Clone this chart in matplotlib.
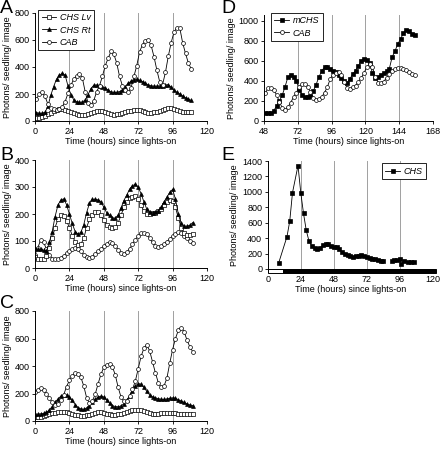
import numpy as np
import matplotlib
matplotlib.use("Agg")
import matplotlib.pyplot as plt
from matplotlib.patches import Rectangle

plt.rcParams['font.family'] = ['Liberation Sans', 'DejaVu Sans']

# Panel A (t = 1..109 h, every 2 h)
a_lv = [20, 22, 28, 38, 50, 62, 72, 80, 86, 88, 84, 76, 66, 58, 50, 44, 42, 44, 50, 58,
        66, 72, 76, 74, 66, 58, 50, 48, 50, 55, 60, 66, 72, 77, 80, 81, 78, 72, 66, 62,
        62, 65, 70, 76, 82, 88, 93, 94, 88, 80, 73, 68, 65, 64, 63]
a_rt = [62, 57, 58, 64, 110, 190, 255, 310, 340, 352, 340, 260, 195, 158, 142, 138, 140, 155, 195, 240,
        265, 267, 262, 254, 245, 228, 215, 212, 212, 218, 228, 255, 278, 295, 305, 311, 302, 292, 278, 268,
        260, 258, 258, 260, 262, 266, 270, 250, 228, 212, 200, 185, 172, 162, 152]
a_cab = [163, 200, 212, 182, 125, 98, 88, 85, 88, 105, 143, 205, 265, 308, 333, 350, 320, 217, 135, 115,
         150, 217, 262, 330, 410, 464, 515, 495, 430, 330, 260, 230, 212, 245, 330, 410, 514, 565, 595, 598,
         560, 477, 378, 291, 270, 360, 480, 580, 660, 690, 690, 580, 500, 430, 385]

# Panel B (t = 0..110 h)
b_rt = [73, 70, 70, 66, 62, 95, 135, 190, 233, 252, 256, 235, 200, 165, 135, 126, 132, 160, 205, 240,
        254, 255, 252, 246, 225, 205, 195, 186, 184, 196, 222, 250, 270, 292, 305, 310, 300, 275, 245, 218,
        208, 205, 206, 212, 225, 245, 262, 280, 291, 255, 200, 165, 155, 155, 158, 168]
b_lv = [42, 35, 32, 34, 45, 75, 110, 150, 180, 195, 193, 175, 150, 120, 97, 86, 88, 110, 150, 180,
        196, 206, 208, 195, 178, 160, 152, 149, 152, 168, 195, 225, 245, 258, 264, 265, 255, 232, 210, 200,
        200, 202, 205, 210, 220, 235, 245, 252, 250, 225, 185, 150, 128, 122, 123, 125]
b_cab = [50, 75, 105, 95, 70, 48, 35, 32, 33, 38, 45, 55, 63, 70, 74, 70, 62, 50, 40, 37,
         42, 52, 62, 72, 80, 90, 96, 92, 82, 68, 57, 52, 58, 72, 88, 105, 118, 128, 130, 125,
         110, 95, 82, 76, 80, 88, 98, 108, 118, 127, 132, 128, 120, 112, 100, 92]

# Panel C (t = 0..110 h)
c_cab = [208, 228, 238, 225, 198, 165, 138, 118, 125, 150, 190, 250, 295, 330, 347, 345, 318, 255, 170, 130,
         145, 195, 270, 340, 390, 410, 412, 395, 335, 245, 175, 145, 148, 180, 230, 290, 380, 470, 530, 553,
         510, 430, 350, 280, 245, 255, 310, 420, 520, 600, 660, 680, 650, 590, 540, 505]
c_rt = [50, 50, 52, 55, 62, 80, 105, 135, 160, 180, 190, 188, 175, 150, 120, 98, 88, 85, 95, 112,
        135, 158, 175, 180, 175, 155, 130, 112, 105, 103, 110, 125, 150, 185, 220, 255, 272, 268, 245, 215,
        190, 175, 168, 162, 158, 157, 160, 165, 168, 165, 155, 145, 135, 125, 117, 112]
c_lv = [30, 30, 32, 36, 42, 50, 56, 60, 64, 66, 66, 63, 58, 52, 46, 42, 40, 40, 42, 46,
        52, 58, 62, 62, 58, 52, 48, 45, 45, 48, 52, 58, 66, 74, 80, 82, 82, 78, 70, 62,
        56, 52, 50, 52, 55, 58, 60, 60, 58, 56, 54, 52, 50, 50, 48, 48]

# Panel D (t = 49..155 h)
d_mchs = [80, 80, 82, 105, 150, 200, 260, 345, 440, 460, 440, 405, 310, 265, 240, 238, 255, 300, 365, 440,
          500, 540, 540, 525, 505, 490, 460, 430, 400, 383, 420, 470, 505, 550, 600, 625, 615, 577, 480, 430,
          445, 462, 477, 500, 525, 640, 700, 770, 820, 880, 915, 905, 875, 860]
d_cab = [277, 335, 330, 310, 260, 190, 130, 110, 140, 185, 240, 285, 340, 370, 372, 345, 290, 235, 215, 220,
         240, 285, 340, 420, 465, 480, 490, 460, 390, 330, 320, 340, 355, 390, 430, 480, 540, 570, 540, 440,
         385, 385, 395, 430, 470, 500, 520, 535, 535, 525, 510, 490, 470, 460]

# Panel E
e_t = [8, 14, 16, 18, 22, 24, 26, 28, 30, 32, 34, 36, 38, 40, 42, 44, 46, 48, 50, 52,
       54, 56, 58, 60, 62, 64, 66, 68, 70, 72, 74, 76, 78, 80, 82, 84, 87, 90, 92, 94,
       96, 97, 99, 102, 104, 106]
e_chs = [80, 420, 620, 990, 1340, 990, 720, 500, 360, 300, 270, 262, 275, 305, 330, 318, 295, 285, 280, 262,
         215, 190, 178, 168, 162, 168, 175, 180, 172, 155, 142, 135, 128, 118, 110, 105, np.nan, 108, 112, 112,
         125, 60, 105, 95, 90, 86]

W, H = 442, 449
fig = plt.figure(figsize=(W / 100, H / 100), dpi=100)

def px(l, t, r, b):
    return [l / W, (H - b) / H, (r - l) / W, (b - t) / H]

FS = 6.5
LW = 0.6
MS = 2.8

def style(ax, xmin, xmax, xticks, grid, ymax, ystep):
    ax.set_xlim(xmin, xmax)
    ax.set_ylim(0, ymax)
    ax.set_xticks(xticks)
    ax.set_yticks(np.arange(0, ymax + 1, ystep))
    for g in grid:
        ax.axvline(g, color='#a0a0a0', lw=0.7, zorder=0)
    for s in ['top', 'right']:
        ax.spines[s].set_visible(False)
    for s in ['left', 'bottom']:
        ax.spines[s].set_linewidth(0.7)
    ax.tick_params(labelsize=FS, length=2, width=0.6, pad=2)
    ax.set_xlabel('Time (hours) since lights-on', fontsize=FS, labelpad=1)
    ax.set_ylabel('Photons/ seedling/ image', fontsize=FS, labelpad=2)

def sq(ax, t, v, label=None):
    ax.plot(t, v, '-s', color='black', lw=LW, ms=MS, mfc='white', mew=0.5, label=label)

def tri(ax, t, v, label=None):
    ax.plot(t, v, '-^', color='black', lw=LW, ms=MS, mfc='black', mew=0.5, label=label)

def circ(ax, t, v, label=None):
    ax.plot(t, v, '-o', color='black', lw=LW, ms=MS, mfc='white', mew=0.5, label=label)

def leg(ax, loc, anchor):
    lg = ax.legend(loc=loc, bbox_to_anchor=anchor, fontsize=FS, handlelength=1.6,
                   handletextpad=0.4, borderpad=0.4, labelspacing=0.35, fancybox=False,
                   edgecolor='black', framealpha=1, borderaxespad=0)
    lg.get_frame().set_linewidth(0.6)
    for tx in lg.get_texts():
        tx.set_style('italic')
    lg.set_clip_on(False)

xt = [0, 24, 48, 72, 96, 120]
grid = [24, 48, 72, 96]

# A
ax = fig.add_axes(px(35, 13, 207, 121))
t = np.arange(1, 1 + 2 * len(a_lv), 2)
sq(ax, t, a_lv, 'CHS Lv')
tri(ax, t, a_rt, 'CHS Rt')
circ(ax, t, a_cab, 'CAB')
style(ax, 0, 120, xt, grid, 800, 200)
leg(ax, 'upper left', (0.017, 1.03))

# B
ax = fig.add_axes(px(35, 160, 207, 268))
t = np.arange(0, 2 * len(b_rt), 2)
circ(ax, t, b_cab)
sq(ax, t, b_lv)
tri(ax, t, b_rt)
style(ax, 0, 120, xt, grid, 400, 100)

# C
ax = fig.add_axes(px(35, 311, 207, 421))
t = np.arange(0, 2 * len(c_cab), 2)
sq(ax, t, c_lv)
tri(ax, t, c_rt)
circ(ax, t, c_cab)
style(ax, 0, 120, xt, grid, 800, 200)

# D
ax = fig.add_axes(px(264, 15, 433, 121))
t = np.arange(49, 49 + 2 * len(d_mchs), 2)
ax.plot(t, d_mchs, '-s', color='black', lw=LW, ms=MS, mfc='black', mew=0.5, label='mCHS')
circ(ax, t, d_cab, 'CAB')
style(ax, 48, 168, [48, 72, 96, 120, 144, 168], [72, 96, 120, 144], 1060, 200)
ax.set_yticks(np.arange(0, 1001, 200))
leg(ax, 'upper left', (0.04, 1.02))

# E
ax = fig.add_axes(px(267.7, 161, 433, 269))
ax.plot(e_t, e_chs, '-s', color='black', lw=LW, ms=MS, mfc='black', mew=0.5, label='CHS')
style(ax, 0, 120, xt, grid, 1400, 200)
ax.add_patch(Rectangle((0, -50), 11, 50, facecolor='white', edgecolor='black', lw=0.7, clip_on=False))
ax.add_patch(Rectangle((11, -50), 111, 50, facecolor='black', edgecolor='black', lw=0.7, clip_on=False))
leg(ax, 'upper right', (0.958, 0.98))

# panel letters
for lab, x, y in [('A', 0, 0), ('B', 0, 147), ('C', 0, 295), ('D', 221, 0), ('E', 221, 147)]:
    fig.text(x / W, 1 - y / H, lab, fontsize=14, va='top', ha='left')

fig.savefig('out.png', dpi=100)
